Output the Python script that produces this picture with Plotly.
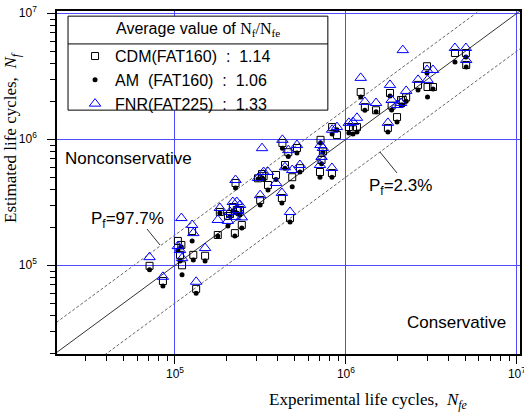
import plotly.graph_objects as go

# Experimental life cycles (common to all three estimates)
n_exp = [7.1e4, 8.5e4, 1.04e5, 1.07e5, 1.09e5, 1.10e5, 1.26e5, 1.28e5, 1.33e5, 1.50e5,
         1.78e5, 1.83e5, 2.04e5, 2.10e5, 2.18e5, 2.24e5, 2.26e5, 2.30e5, 2.34e5, 2.40e5,
         2.46e5, 3.06e5, 3.15e5, 3.23e5, 3.30e5, 3.50e5, 3.90e5, 4.22e5, 4.25e5, 4.40e5,
         4.60e5, 4.71e5, 4.85e5, 5.17e5, 5.38e5, 7.05e5, 7.10e5, 7.20e5, 7.33e5, 8.28e5,
         8.30e5, 8.86e5, 1.04e6, 1.10e6, 1.16e6, 1.22e6, 1.29e6, 1.50e6, 1.76e6, 1.81e6,
         1.85e6, 1.99e6, 2.10e6, 2.15e6, 2.25e6, 2.64e6, 2.98e6, 3.00e6, 3.23e6, 4.34e6,
         5.03e6, 5.05e6]

# Estimated life cycles
fnr = [1.16e5, 8.1e4, 1.42e5, 1.32e5, 2.37e5, 1.14e5, 2.09e5, 1.80e5, 7.4e4, 1.37e5,
       2.29e5, 2.85e5, 2.25e5, 2.65e5, 3.18e5, 2.42e5, 4.75e5, 3.18e5, 2.75e5, 3.01e5,
       2.40e5, 4.93e5, 3.60e5, 8.50e5, 5.50e5, 5.50e5, 4.50e5, 3.75e5, 9.90e5, 6.00e5,
       8.20e5, 2.65e5, 5.70e5, 9.00e5, 6.25e5, 6.25e5, 9.00e5, 7.24e5, 8.53e5, 5.92e5,
       1.19e6, 1.25e6, 1.35e6, 1.37e6, 1.48e6, 3.07e6, 1.98e6, 1.94e6, 1.35e6, 2.70e6,
       2.05e6, 1.87e6, 1.94e6, 5.10e6, 2.42e6, 2.96e6, 3.55e6, 2.96e6, 3.55e6, 5.30e6,
       5.30e6, 4.26e6]

cdm = [9.9e4, 7.5e4, 1.56e5, 1.21e5, 1.45e5, 1.00e5, 1.87e5, 1.21e5, 6.5e4, 1.19e5,
       1.74e5, 2.65e5, 2.46e5, 2.55e5, 2.90e5, 1.80e5, 4.50e5, 2.75e5, 2.70e5, 2.75e5,
       2.09e5, 4.90e5, 3.30e5, 5.30e5, 5.10e5, 4.34e5, 5.21e5, 3.42e5, 9.35e5, 6.25e5,
       7.90e5, 2.37e5, 5.00e5, 8.53e5, 5.90e5, 5.50e5, 9.90e5, 6.85e5, 8.00e5, 5.40e5,
       1.25e6, 1.08e6, 1.25e6, 1.20e6, 1.25e6, 2.37e6, 1.80e6, 1.70e6, 1.23e6, 2.33e6,
       1.85e6, 1.50e6, 2.05e6, 2.05e6, 2.15e6, 2.70e6, 3.80e6, 2.60e6, 2.60e6, 4.84e6,
       4.84e6, 3.89e6]

am = [9.2e4, 6.85e4, 1.32e5, 1.08e5, 1.40e5, 8.4e4, 1.56e5, 1.10e5, 6.0e4, 1.08e5,
      1.71e5, 2.60e5, 2.05e5, 2.45e5, 2.70e5, 1.71e5, 4.10e5, 2.60e5, 2.55e5, 2.51e5,
      1.98e5, 4.85e5, 3.01e5, 4.95e5, 4.80e5, 3.96e5, 4.80e5, 3.12e5, 8.50e5, 5.90e5,
      7.30e5, 2.21e5, 4.20e5, 7.78e5, 5.50e5, 5.00e5, 9.35e5, 6.40e5, 7.93e5, 5.00e5,
      1.10e6, 1.19e6, 1.12e6, 1.10e6, 1.14e6, 2.17e6, 1.70e6, 1.65e6, 1.14e6, 2.21e6,
      1.71e6, 1.37e6, 1.87e6, 1.87e6, 2.00e6, 2.46e6, 3.36e6, 2.17e6, 2.51e6, 4.11e6,
      4.50e6, 3.75e6]

series_names = ["CDM(FAT160)\u00a0\u00a0:\u00a0\u00a01.14",
                "AM\u00a0\u00a0(FAT160)\u00a0\u00a0:\u00a0\u00a01.06",
                "FNR(FAT225)\u00a0\u00a0:\u00a0\u00a01.33"]

# axis ticks
major_ticks = [1e5, 1e6, 1e7]
major_labels = ["10<sup>5</sup>", "10<sup>6</sup>", "10<sup>7</sup>"]
minor_ticks = [d * 10 ** e for e in range(4, 7) for d in range(2, 10)]

# Reference lines: y = x and scatter band (P_f = 97.7 % / 2.3 %)
line_x = [1e4, 2e7]
band_upper = 10 ** 0.24
band_lower = 10 ** -0.30

SANS = "Liberation Sans, Arial, sans-serif"
SERIF = "Liberation Serif, Times New Roman, serif"

fig = go.Figure()

fig.add_trace(go.Scatter(x=line_x, y=line_x, mode="lines",
                         line=dict(color="#333333", width=1), showlegend=False, hoverinfo="skip"))
fig.add_trace(go.Scatter(x=line_x, y=[v * band_upper for v in line_x], mode="lines",
                         line=dict(color="#666666", width=1, dash="3px,2px"), showlegend=False, hoverinfo="skip"))
fig.add_trace(go.Scatter(x=line_x, y=[v * band_lower for v in line_x], mode="lines",
                         line=dict(color="#666666", width=1, dash="3px,2px"), showlegend=False, hoverinfo="skip"))

fig.add_trace(go.Scatter(x=n_exp, y=cdm, mode="markers", name=series_names[0],
                         marker=dict(symbol="square-open", size=7, color="black", line=dict(width=1))))
fig.add_trace(go.Scatter(x=n_exp, y=am, mode="markers", name=series_names[1],
                         marker=dict(symbol="circle", size=5, color="black")))
fig.add_trace(go.Scatter(x=n_exp, y=fnr, mode="markers", name=series_names[2],
                         marker=dict(symbol="triangle-up-open", size=10, color="#0000ff", line=dict(width=1))))

axis_common = dict(
    type="log", tickmode="array", tickvals=major_ticks, ticktext=major_labels,
    showgrid=True, gridcolor="#4d4dff", gridwidth=1,
    ticks="outside", ticklen=8, tickcolor="black", tickwidth=1,
    showline=True, linecolor="black", linewidth=1.5, mirror=True,
    zeroline=False, ticklabeloverflow="allow", automargin=False,
    tickfont=dict(family=SANS, size=12, color="black"),
    minor=dict(ticks="outside", ticklen=5, tickcolor="black", tickwidth=1,
               tickmode="array", tickvals=minor_ticks, showgrid=False),
)

fig.update_layout(
    width=524, height=416,
    margin=dict(l=57, r=4, t=11, b=62),
    paper_bgcolor="white", plot_bgcolor="white",
    xaxis=dict(range=[4.310, 7.018], **axis_common),
    yaxis=dict(range=[4.296, 7.018], ticklabelstandoff=8, **axis_common),
    showlegend=True,
    legend=dict(x=0.039, y=0.918, xanchor="left", yanchor="top",
                bgcolor="rgba(0,0,0,0)", borderwidth=0, tracegroupgap=0,
                font=dict(family=SANS, size=16, color="black")),
)

# legend frame
fig.add_shape(type="rect", xref="paper", yref="paper", x0=0.0238, x1=0.585, y0=0.711, y1=0.985,
              line=dict(color="black", width=1), fillcolor="white", layer="above")
fig.add_shape(type="line", xref="paper", yref="paper", x0=0.0238, x1=0.585, y0=0.904, y1=0.904,
              line=dict(color="black", width=1), layer="above")
# leader lines
fig.add_shape(type="line", xref="paper", yref="paper", x0=0.1944, x1=0.2225, y0=0.3644, y1=0.3178,
              line=dict(color="#333333", width=1))
fig.add_shape(type="line", xref="paper", yref="paper", x0=0.6976, x1=0.7343, y0=0.5889, y1=0.5277,
              line=dict(color="#333333", width=1))


def note(x, y, text, size=17, family=SANS, angle=0):
    fig.add_annotation(xref="paper", yref="paper", x=x, y=y, xanchor="center", yanchor="middle",
                       showarrow=False, text=text, textangle=angle,
                       font=dict(family=family, size=size, color="black"))


note(0.304, 0.945, 'Average value of <span style="font-family:Liberation Serif">N<sub>f</sub>/N<sub>fe</sub></span>', size=16)
note(0.154, 0.569, "Nonconservative")
note(0.862, 0.0904, "Conservative")
note(0.153, 0.392, "P<sub>f</sub>=97.7%")
note(0.741, 0.487, "P<sub>f</sub>=2.3%")
note(0.672, -0.137, "Experimental life cycles,\u00a0 <i>N<sub>fe</sub></i>", family=SERIF)
note(-0.097, 0.63, "Estimated life cycles,\u00a0 <i>N<sub>f</sub></i>", family=SERIF, angle=-90)

fig.write_html("out.html")
